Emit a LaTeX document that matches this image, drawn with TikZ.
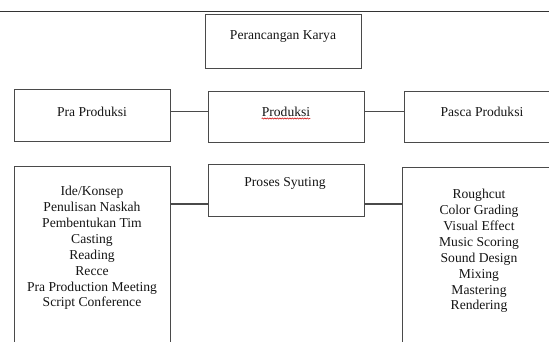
\documentclass[tikz,border=0pt]{standalone}
\usepackage{fontspec}
\setmainfont{Liberation Serif}
\usetikzlibrary{decorations.pathmorphing}
\definecolor{linegray}{HTML}{4A4A4A}
\definecolor{txt}{HTML}{151515}
\tikzset{
  box/.style={draw=linegray, line width=1.1pt, inner sep=0pt, anchor=north west},
  lbl/.style={text=txt, font=\fontsize{13.6}{15.9}\selectfont, inner sep=0pt, align=center},
  conn/.style={draw=linegray, line width=1.1pt}
}
\begin{document}
\begin{tikzpicture}[x=1pt,y=-1pt]
\useasboundingbox (0,0) rectangle (549,341);
\draw[draw=black!80, line width=1.2pt] (0,11.5) -- (549,11.5);
% boxes
\node[box, minimum width=156pt, minimum height=54pt] (karya) at (205,14) {};
\node[box, minimum width=156pt, minimum height=52pt] (pra) at (14,89) {};
\node[box, minimum width=156pt, minimum height=51pt] (prod) at (208,90.5) {};
\node[box, minimum width=160pt, minimum height=51pt] (pasca) at (404,90.5) {};
\node[box, minimum width=156pt, minimum height=190pt] (listL) at (14,165.5) {};
\node[box, minimum width=156pt, minimum height=52pt] (syut) at (207.5,164) {};
\node[box, minimum width=160pt, minimum height=190pt] (listR) at (402,167) {};
% connectors
\coordinate (r1) at (0,111.5);
\coordinate (r2) at (0,204);
\draw[conn] (pra.east |- r1) -- (prod.west |- r1);
\draw[conn] (prod.east |- r1) -- (pasca.west |- r1);
\draw[conn] (listL.east |- r2) -- (syut.west |- r2);
\draw[conn] (syut.east |- r2) -- (listR.west |- r2);
% texts
\node[lbl] (tkarya) at (283,37) {Perancangan Karya};
\node[lbl] (tpra) at (92,112) {Pra Produksi};
\node[lbl] (tprod) at (286,112) {Produksi};
\node[lbl] (tpasca) at (482,112) {Pasca Produksi};
\node[lbl] (tsyut) at (285,183) {Proses Syuting};
\node[lbl] (tlistL) at (92,248) {Ide/Konsep\\Penulisan Naskah\\Pembentukan Tim\\Casting\\Reading\\Recce\\Pra Production Meeting\\Script Conference};
\node[lbl] (tlistR) at (479,251) {Roughcut\\Color Grading\\Visual Effect\\Music Scoring\\Sound Design\\Mixing\\Mastering\\Rendering};
% spell-check squiggle under Produksi
\coordinate (sq1) at ([yshift=-1.5pt]tprod.south west);
\coordinate (sq2) at ([yshift=-1.5pt]tprod.south east);
\draw[red!80!black, line width=0.5pt, decorate, decoration={snake, amplitude=0.6pt, segment length=2.5pt}] (sq1) -- (sq2);
\end{tikzpicture}
\end{document}
